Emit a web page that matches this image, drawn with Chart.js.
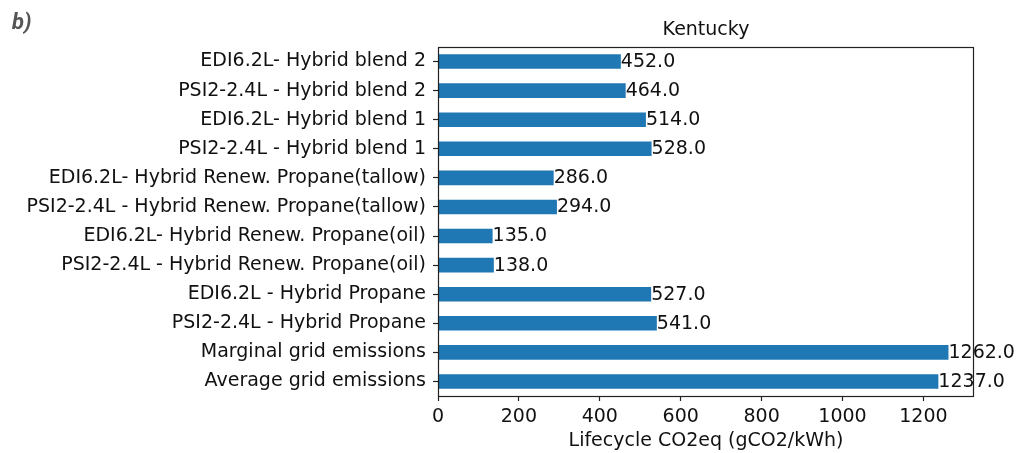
<!DOCTYPE html>
<html>
<head>
<meta charset="utf-8">
<script src="https://cdn.jsdelivr.net/npm/chart.js@4/dist/chart.umd.min.js"></script>
<style>
  html, body { margin: 0; padding: 0; background: #fff; }
  #wrap { width: 1029px; height: 453px; position: relative; }
</style>
</head>
<body>
<div id="wrap"><canvas id="c"></canvas></div>
<script>
// ---- data ----
const categories = [
  "EDI6.2L- Hybrid blend 2",
  "PSI2-2.4L - Hybrid blend 2",
  "EDI6.2L- Hybrid blend 1",
  "PSI2-2.4L - Hybrid blend 1",
  "EDI6.2L- Hybrid Renew. Propane(tallow)",
  "PSI2-2.4L - Hybrid Renew. Propane(tallow)",
  "EDI6.2L- Hybrid Renew. Propane(oil)",
  "PSI2-2.4L - Hybrid Renew. Propane(oil)",
  "EDI6.2L - Hybrid Propane",
  "PSI2-2.4L - Hybrid Propane",
  "Marginal grid emissions",
  "Average grid emissions"
];
const emissions = [452, 464, 514, 528, 286, 294, 135, 138, 527, 541, 1262, 1237];
const xTickValues = [0, 200, 400, 600, 800, 1000, 1200];
const chartTitle = "Kentucky";
const xAxisTitle = "Lifecycle CO2eq (gCO2/kWh)";
const panelLabel = "b)";

const FONT = "'DejaVu Sans', sans-serif";
const FS = 19;
const TEXT = "#111";

const frameAndLabels = {
  id: 'frameAndLabels',
  afterDatasetsDraw(chart) {
    const ctx = chart.ctx;
    const a = chart.chartArea;
    // value labels
    ctx.save();
    ctx.font = FS + "px " + FONT;
    ctx.fillStyle = TEXT;
    ctx.textAlign = 'left';
    ctx.textBaseline = 'middle';
    const meta = chart.getDatasetMeta(0);
    meta.data.forEach((bar, i) => {
      ctx.fillText(emissions[i].toFixed(1), bar.x, bar.y + 0.5);
    });
    ctx.restore();
    // frame
    ctx.save();
    ctx.strokeStyle = '#222';
    ctx.lineWidth = 1.2;
    ctx.strokeRect(Math.round(a.left) + 0.5, Math.round(a.top) + 0.5,
                   Math.round(a.right - a.left) - 1, Math.round(a.bottom - a.top));
    ctx.restore();
  },
  afterDraw(chart) {
    const ctx = chart.ctx;
    ctx.save();
    ctx.font = "italic bold 22px Roboto, sans-serif";
    ctx.fillStyle = '#555';
    ctx.textAlign = 'left';
    ctx.textBaseline = 'alphabetic';
    ctx.fillText(panelLabel, 12, 29);
    ctx.restore();
  }
};

new Chart(document.getElementById('c'), {
  type: 'bar',
  data: {
    labels: categories,
    datasets: [{
      data: emissions,
      backgroundColor: '#1f77b4',
      borderWidth: 0,
      barPercentage: 0.5,
      categoryPercentage: 1.0,
      xAxisID: 'x',
      yAxisID: 'y'
    }]
  },
  options: {
    indexAxis: 'y',
    responsive: true,
    maintainAspectRatio: false,
    animation: false,
    devicePixelRatio: 1,
    layout: { padding: { left: 0, right: 55, top: 0, bottom: 0 } },
    plugins: { legend: { display: false }, tooltip: { enabled: false }, title: { display: false } },
    scales: {
      x: {
        type: 'linear',
        position: 'bottom',
        min: 0,
        max: 1325.1,
        border: { display: false },
        grid: { drawOnChartArea: false, drawTicks: true, tickLength: 5, tickColor: '#222', tickWidth: 1.2 },
        ticks: {
          stepSize: 200,
          includeBounds: false,
          padding: 4.5,
          color: TEXT,
          font: { family: FONT, size: FS },
          callback: (v) => String(v)
        },
        afterBuildTicks: (scale) => { scale.ticks = xTickValues.map(v => ({ value: v })); },
        title: { display: true, text: xAxisTitle, color: TEXT, font: { family: FONT, size: FS }, padding: { top: 0, bottom: 0.6 } },
        afterFit: (scale) => { scale.height = 57; }
      },
      xTop: {
        type: 'linear',
        axis: 'x',
        position: 'top',
        display: true,
        border: { display: false },
        grid: { display: false, drawTicks: false },
        ticks: { display: false },
        title: { display: true, text: chartTitle, color: TEXT, font: { family: FONT, size: FS }, padding: { top: 19, bottom: 0 } },
        afterFit: (scale) => { scale.height = 47; }
      },
      y: {
        type: 'category',
        position: 'left',
        offset: true,
        border: { display: false },
        grid: { drawOnChartArea: false, drawTicks: true, offset: false, tickLength: 5, tickColor: '#222', tickWidth: 1.2 },
        ticks: { padding: 7, color: TEXT, font: { family: FONT, size: FS } },
        afterFit: (scale) => { scale.width = 438; }
      }
    }
  },
  plugins: [frameAndLabels]
});
</script>
</body>
</html>
